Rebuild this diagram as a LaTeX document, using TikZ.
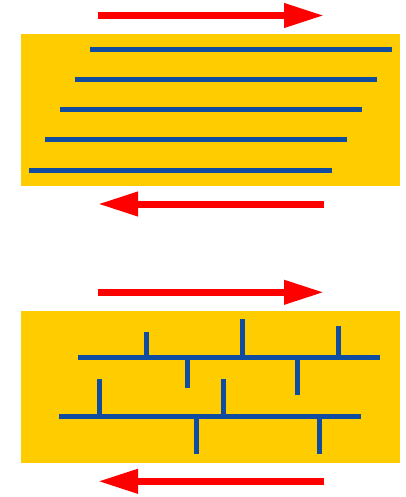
\documentclass[tikz,border=0pt]{standalone}
\usetikzlibrary{arrows.meta}
\definecolor{panel}{RGB}{255,204,0}
\definecolor{bar}{RGB}{16,76,160}
\definecolor{arr}{RGB}{255,0,0}
\tikzset{
  panelbox/.style={fill=panel, draw=none},
  barline/.style={draw=bar, line width=5pt},
  shear/.style={draw=arr, line width=7pt, -{Triangle[length=40pt,width=23pt]}}
}
\begin{document}
\begin{tikzpicture}[x=1pt,y=-1pt]
\useasboundingbox (0,0) rectangle (405,497);
% top panel
\fill[panelbox] (21,34) rectangle (400,186);
\draw[shear] (98,15.5) -- (324,15.5);
\draw[shear] (324,204) -- (98,204);
\draw[barline] (90,49.7) -- (392,49.7);
\draw[barline] (75,79.7) -- (377,79.7);
\draw[barline] (60,110) -- (362,110);
\draw[barline] (45,140) -- (347,140);
\draw[barline] (29,170.7) -- (332,170.7);
% bottom panel
\fill[panelbox] (21,311) rectangle (400,462.7);
\draw[shear] (98,292.3) -- (324,292.3);
\draw[shear] (324,481.3) -- (98,481.3);
\draw[barline] (78,357.3) -- (380,357.3);
\draw[barline] (59,416.7) -- (361,416.7);
% upper line branches
\draw[barline] (146,357.3) -- (146,332);
\draw[barline] (242,357.3) -- (242,319.3);
\draw[barline] (338.3,357.3) -- (338.3,325.7);
\draw[barline] (187.7,357.3) -- (187.7,388.3);
\draw[barline] (297.3,357.3) -- (297.3,394.7);
% lower line branches
\draw[barline] (99.7,416.7) -- (99.7,379);
\draw[barline] (223.7,416.7) -- (223.7,379);
\draw[barline] (196,416.7) -- (196,454.3);
\draw[barline] (319.3,416.7) -- (319.3,454.3);
\end{tikzpicture}
\end{document}
